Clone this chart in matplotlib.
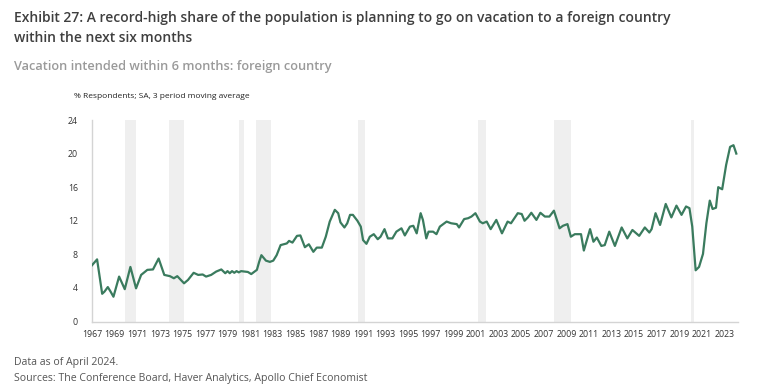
import matplotlib
matplotlib.use("Agg")
import matplotlib.pyplot as plt

years = [1967.0, 1967.45, 1967.9, 1968.1, 1968.4, 1968.65, 1968.9, 1969.4, 1969.9, 1970.4,
         1970.9, 1971.35, 1971.9, 1972.4, 1972.9, 1973.4, 1973.9, 1974.25, 1974.55, 1975.15,
         1975.5, 1976.0, 1976.4, 1976.8, 1977.1, 1977.55, 1978.0, 1978.45, 1978.8, 1979.0,
         1979.2, 1979.4, 1979.6, 1979.8, 1980.0, 1980.2, 1980.5, 1980.8, 1981.1, 1981.6,
         1981.8, 1982.0, 1982.4, 1982.75, 1983.05, 1983.35, 1983.7, 1984.25, 1984.45, 1984.75,
         1985.15, 1985.45, 1985.85, 1986.2, 1986.6, 1986.9, 1987.35, 1987.7, 1988.05, 1988.5,
         1988.8, 1989.0, 1989.35, 1989.6, 1989.85, 1990.1, 1990.5, 1990.8, 1991.0, 1991.3,
         1991.6, 1991.95, 1992.3, 1992.55, 1992.9, 1993.2, 1993.6, 1993.95, 1994.4, 1994.7,
         1995.15, 1995.45, 1995.75, 1996.1, 1996.3, 1996.6, 1996.8, 1997.2, 1997.5, 1997.8,
         1998.4, 1998.8, 1999.3, 1999.5, 1999.95, 2000.3, 2000.6, 2000.95, 2001.35, 2001.6,
         2001.95, 2002.3, 2002.8, 2003.3, 2003.8, 2004.1, 2004.7, 2005.05, 2005.3, 2005.6,
         2005.9, 2006.35, 2006.7, 2007.1, 2007.5, 2007.9, 2008.4, 2008.7, 2009.1, 2009.4,
         2009.75, 2010.3, 2010.55, 2011.1, 2011.4, 2011.7, 2012.1, 2012.4, 2012.8, 2013.3,
         2013.9, 2014.4, 2014.85, 2015.45, 2015.95, 2016.35, 2016.55, 2016.9, 2017.3, 2017.8,
         2018.3, 2018.75, 2019.2, 2019.6, 2019.9, 2020.15, 2020.45, 2020.75, 2021.1, 2021.4,
         2021.7, 2021.95, 2022.25, 2022.45, 2022.8, 2023.15, 2023.5, 2023.8, 2024.05]

share = [6.7, 7.4, 3.3, 3.55, 4.1, 3.55, 2.95, 5.35, 3.85, 6.5,
         3.95, 5.55, 6.15, 6.2, 7.5, 5.55, 5.4, 5.15, 5.4, 4.55,
         4.95, 5.8, 5.55, 5.6, 5.35, 5.55, 5.95, 6.2, 5.75, 6.0,
         5.75, 6.0, 5.8, 6.0, 5.85, 6.0, 5.95, 5.9, 5.65, 6.15,
         7.1, 7.9, 7.25, 7.1, 7.25, 7.9, 9.1, 9.3, 9.6, 9.4,
         10.2, 10.25, 8.85, 9.2, 8.3, 8.8, 8.8, 10.1, 11.9, 13.3,
         12.9, 11.8, 11.2, 11.7, 12.7, 12.7, 12.0, 11.3, 9.7, 9.25,
         10.1, 10.4, 9.8, 10.1, 11.0, 9.9, 9.9, 10.7, 11.1, 10.25,
         11.3, 11.4, 10.5, 12.9, 12.1, 9.9, 10.7, 10.7, 10.4, 11.3,
         11.9, 11.7, 11.6, 11.2, 12.2, 12.3, 12.5, 12.9, 11.9, 11.7,
         11.9, 11.0, 12.1, 10.5, 11.9, 11.7, 12.9, 12.8, 12.0, 12.4,
         12.95, 12.1, 12.95, 12.5, 12.5, 13.2, 11.1, 11.4, 11.6, 10.1,
         10.4, 10.4, 8.45, 11.0, 9.5, 10.0, 9.0, 9.1, 10.7, 9.0,
         11.2, 9.9, 10.9, 10.2, 11.2, 10.6, 11.0, 12.9, 11.5, 14.0,
         12.4, 13.8, 12.7, 13.7, 13.5, 11.3, 6.1, 6.5, 8.05, 11.7,
         14.4, 13.4, 13.55, 16.0, 15.75, 18.65, 20.8, 21.0, 20.0]

recession_start = [1969.92, 1973.83, 1980.0, 1981.5, 1990.55, 2001.2, 2007.92, 2020.0]
recession_end = [1970.87, 1975.17, 1980.5, 1982.83, 1991.2, 2001.87, 2009.45, 2020.3]

xtick_years = list(range(1967, 2024, 2))
ytick_values = [0, 4, 8, 12, 16, 20, 24]

title = ("Exhibit 27: A record-high share of the population is planning to go on vacation to a foreign country\n"
         "within the next six months")
subtitle = "Vacation intended within 6 months: foreign country"
unit_label = "% Respondents; SA, 3 period moving average"
note1 = "Data as of April 2024."
note2 = "Sources: The Conference Board, Haver Analytics, Apollo Chief Economist"

plt.rcParams['font.family'] = ['Open Sans', 'DejaVu Sans']

W, H = 758, 387
fig = plt.figure(figsize=(W / 100, H / 100), dpi=100)
ax = fig.add_axes([92 / W, 1 - 321.5 / H, (738 - 92) / W, (321.5 - 120) / H])

for s, e in zip(recession_start, recession_end):
    ax.axvspan(s, e, color='#efefef', lw=0, zorder=0)

ax.plot(years, share, color='#3a7b5e', lw=1.6, zorder=3, solid_joinstyle='round')

ax.set_xlim(1967, 2024.2)
ax.set_ylim(0, 24)
ax.set_xticks(xtick_years)
ax.set_xticklabels([str(y) for y in xtick_years])
ax.set_yticks(ytick_values)
ax.tick_params(axis='both', length=0, labelsize=6.3, colors='#333333')
ax.tick_params(axis='y', pad=10)
ax.tick_params(axis='x', pad=6)
for side in ['top', 'right']:
    ax.spines[side].set_visible(False)
for side in ['left', 'bottom']:
    ax.spines[side].set_color('#d4d4d4')
    ax.spines[side].set_linewidth(1.0)

fig.text(14 / W, 1 - 11 / H, title, ha='left', va='top', fontsize=10.0, fontweight='semibold',
         color='#3f3f3f', linespacing=1.55)
fig.text(14 / W, 1 - 60 / H, subtitle, ha='left', va='top', fontsize=9.2, fontweight='semibold',
         color='#9a9a9a')
fig.text(74 / W, 1 - 93 / H, unit_label, ha='left', va='top', fontsize=6.0, color='#222222')
fig.text(14 / W, 1 - 357 / H, note1, ha='left', va='top', fontsize=7.55, color='#555555')
fig.text(14 / W, 1 - 373 / H, note2, ha='left', va='top', fontsize=7.55, color='#555555')

fig.savefig('out.png', dpi=100)
